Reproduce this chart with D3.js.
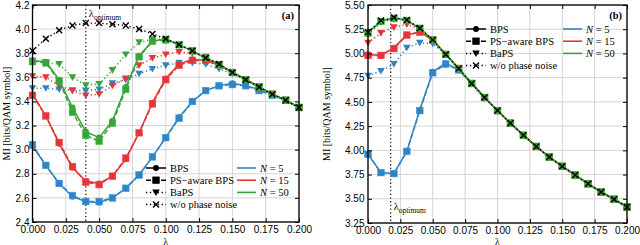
<!DOCTYPE html>
<html>
<head>
<meta charset="utf-8">
<script src="https://cdn.jsdelivr.net/npm/d3@7"></script>
<style>
  body { margin: 0; background: #fff; }
  svg { font-family: "Liberation Serif", "DejaVu Serif", serif; }
  .tick text { font-size: 10px; fill: #000; }
  .tick line { stroke: #000; }
  .domain { stroke: none; }
</style>
</head>
<body>
<script>
// lambda grid
const lambdas = [0, 0.01, 0.02, 0.03, 0.04, 0.05, 0.06, 0.07, 0.08, 0.09, 0.10,
                 0.11, 0.12, 0.13, 0.14, 0.15, 0.16, 0.17, 0.18, 0.19, 0.20];
const xTicks = [0, 0.025, 0.05, 0.075, 0.1, 0.125, 0.15, 0.175, 0.2];

// panel (a)
const aTicks = [2.4, 2.6, 2.8, 3.0, 3.2, 3.4, 3.6, 3.8, 4.0, 4.2];
const aNoPN   = [3.82,3.92,3.99,4.03,4.05,4.05,4.04,4.03,4.00,3.96,3.92,3.87,3.82,3.76,3.71,3.64,3.58,3.52,3.46,3.41,3.35];
const aBps5   = [3.03,2.87,2.72,2.61,2.57,2.56,2.60,2.68,2.79,2.94,3.10,3.27,3.40,3.49,3.53,3.55,3.53,3.50,3.46,3.41,3.35];
const aPsa5   = [3.04,2.87,2.72,2.62,2.57,2.57,2.60,2.68,2.79,2.94,3.10,3.26,3.40,3.49,3.53,3.54,3.53,3.49,3.45,3.41,3.35];
const aBaps5  = [3.51,3.51,3.50,3.49,3.49,3.50,3.55,3.58,3.63,3.67,3.70,3.72,3.72,3.71,3.67,3.63,3.58,3.52,3.46,3.41,3.35];
const aBps15  = [3.46,3.28,3.05,2.85,2.74,2.72,2.78,2.92,3.14,3.39,3.59,3.71,3.75,3.74,3.70,3.645,3.585,3.52,3.46,3.41,3.35];
const aPsa15  = [3.45,3.28,3.06,2.86,2.73,2.71,2.78,2.93,3.14,3.38,3.58,3.70,3.74,3.74,3.70,3.64,3.58,3.52,3.46,3.41,3.35];
const aBaps15 = [3.61,3.60,3.53,3.49,3.45,3.46,3.53,3.59,3.70,3.76,3.79,3.81,3.80,3.77,3.71,3.645,3.58,3.52,3.46,3.41,3.35];
const aBps50  = [3.74,3.73,3.58,3.35,3.15,3.10,3.24,3.52,3.78,3.90,3.92,3.87,3.82,3.76,3.71,3.64,3.58,3.52,3.46,3.41,3.35];
const aPsa50  = [3.73,3.72,3.57,3.31,3.12,3.07,3.22,3.50,3.77,3.90,3.91,3.87,3.82,3.76,3.70,3.64,3.58,3.52,3.46,3.41,3.35];
const aBaps50 = [3.74,3.72,3.71,3.60,3.535,3.545,3.66,3.79,3.89,3.915,3.915,3.87,3.82,3.76,3.71,3.64,3.58,3.52,3.46,3.41,3.35];

// panel (b)
const bTicks = [3.25, 3.50, 3.75, 4.00, 4.25, 4.50, 4.75, 5.00, 5.25, 5.50];
const bNoPN   = [5.22,5.34,5.37,5.345,5.26,5.14,4.99,4.845,4.69,4.545,4.41,4.28,4.155,4.04,3.93,3.835,3.745,3.655,3.57,3.495,3.415];
const bBps5   = [3.96,3.77,3.76,3.99,4.42,4.81,4.90,4.83,4.69,4.545,4.41,4.28,4.155,4.04,3.93,3.835,3.745,3.655,3.57,3.495,3.415];
const bPsa5   = [3.96,3.77,3.76,3.99,4.41,4.80,4.89,4.83,4.69,4.545,4.41,4.28,4.155,4.04,3.93,3.835,3.745,3.655,3.57,3.495,3.415];
const bBaps5  = [4.77,4.82,4.89,5.06,5.11,5.10,4.99,4.845,4.69,4.545,4.41,4.28,4.155,4.04,3.93,3.835,3.745,3.655,3.57,3.495,3.415];
const bBps15  = [4.99,4.98,5.06,5.19,5.22,5.14,4.99,4.845,4.69,4.545,4.41,4.28,4.155,4.04,3.93,3.835,3.745,3.655,3.57,3.495,3.415];
const bPsa15  = [4.98,4.98,5.05,5.19,5.22,5.14,4.99,4.845,4.69,4.545,4.41,4.28,4.155,4.04,3.93,3.835,3.745,3.655,3.57,3.495,3.415];
const bBaps15 = [5.11,5.21,5.27,5.30,5.255,5.14,4.99,4.845,4.69,4.545,4.41,4.28,4.155,4.04,3.93,3.835,3.745,3.655,3.57,3.495,3.415];
const bBps50  = [5.22,5.33,5.37,5.34,5.26,5.14,4.99,4.845,4.69,4.545,4.41,4.28,4.155,4.04,3.93,3.835,3.745,3.655,3.57,3.495,3.415];
const bPsa50  = [5.21,5.33,5.36,5.34,5.26,5.14,4.99,4.845,4.69,4.545,4.41,4.28,4.155,4.04,3.93,3.835,3.745,3.655,3.57,3.495,3.415];
const bBaps50 = [5.20,5.32,5.36,5.34,5.26,5.14,4.99,4.845,4.69,4.545,4.41,4.28,4.155,4.04,3.93,3.835,3.745,3.655,3.57,3.495,3.415];

const colors = { 5: "#3184c4", 15: "#e2363a", 50: "#38a33a" };
const methodNames = ["BPS", "PS\u2212aware BPS", "BaPS", "w/o phase noise"];
const nValues = [5, 15, 50];

const svg = d3.select("body").append("svg")
  .attr("width", 640)
  .attr("height", 245);

const dashes = { bps: null, psa: "5,2.5", baps: "1.3,2.6" };

function marker(g, type, x, y, color) {
  if (type === "bps") {
    g.append("circle").attr("cx", x).attr("cy", y).attr("r", 3).attr("fill", color);
  } else if (type === "psa") {
    g.append("rect").attr("x", x - 3.3).attr("y", y - 3.3).attr("width", 6.6).attr("height", 6.6)
      .attr("fill", color).attr("stroke", d3.color(color).brighter(0.4)).attr("stroke-width", 0.6);
  } else if (type === "baps") {
    g.append("path").attr("d", `M${x - 3.8},${y - 3}L${x + 3.8},${y - 3}L${x},${y + 3.6}Z`).attr("fill", color);
  } else {
    g.append("path").attr("d", `M${x - 3},${y - 3}L${x + 3},${y + 3}M${x - 3},${y + 3}L${x + 3},${y - 3}`)
      .attr("stroke", color).attr("stroke-width", 1.4);
  }
}

function drawPanel(p) {
  const x = d3.scaleLinear().domain([0, 0.2]).range([p.left, p.right]);
  const y = d3.scaleLinear().domain(p.yDomain).range([p.bottom, p.top]);
  const g = svg.append("g");

  // grid
  g.selectAll(".gx").data(xTicks).enter().append("line")
    .attr("x1", d => x(d)).attr("x2", d => x(d)).attr("y1", p.top).attr("y2", p.bottom)
    .attr("stroke", "#d4d4d4").attr("stroke-width", 1);
  g.selectAll(".gy").data(p.yTicks).enter().append("line")
    .attr("x1", p.left).attr("x2", p.right).attr("y1", d => y(d)).attr("y2", d => y(d))
    .attr("stroke", "#d4d4d4").attr("stroke-width", 1);

  // optimum line
  g.append("line").attr("x1", x(p.opt)).attr("x2", x(p.opt)).attr("y1", p.top).attr("y2", p.bottom)
    .attr("stroke", "#222").attr("stroke-width", 1.3).attr("stroke-dasharray", "1.3,2.4");
  const ol = g.append("text").attr("x", x(p.opt) + 3).attr("y", p.optY).attr("font-size", 10.5);
  ol.append("tspan").text("\u03bb");
  ol.append("tspan").attr("dy", 2.5).attr("font-size", 7.5).text("optimum");

  const line = d3.line().x((d, i) => x(lambdas[i])).y(d => y(d));

  nValues.forEach(n => {
    ["bps", "psa", "baps"].forEach(type => {
      const vals = p.series[n][type];
      g.append("path").datum(vals).attr("d", line)
        .attr("fill", "none").attr("stroke", colors[n]).attr("stroke-width", 1.5)
        .attr("stroke-dasharray", dashes[type]);
      const mg = g.append("g");
      vals.forEach((v, i) => marker(mg, type, x(lambdas[i]), y(v), colors[n]));
    });
  });

  g.append("path").datum(p.noPN).attr("d", line)
    .attr("fill", "none").attr("stroke", "#000").attr("stroke-width", 1.4)
    .attr("stroke-dasharray", "1.3,2.6");
  const xg = g.append("g");
  p.noPN.forEach((v, i) => marker(xg, "x", x(lambdas[i]), y(v), "#000"));

  // axes, ticks pointing inward
  g.append("g").attr("transform", `translate(0,${p.bottom})`)
    .call(d3.axisBottom(x).tickValues(xTicks).tickFormat(d3.format(".3f")).tickSize(-4).tickPadding(3.5));
  g.append("g").attr("transform", `translate(0,${p.top})`)
    .call(d3.axisTop(x).tickValues(xTicks).tickFormat("").tickSize(-4));
  g.append("g").attr("transform", `translate(${p.left},0)`)
    .call(d3.axisLeft(y).tickValues(p.yTicks).tickFormat(d3.format(p.yFmt)).tickSize(-4).tickPadding(p.yPad));
  g.append("g").attr("transform", `translate(${p.right},0)`)
    .call(d3.axisRight(y).tickValues(p.yTicks).tickFormat("").tickSize(-4));

  g.append("rect").attr("x", p.left).attr("y", p.top)
    .attr("width", p.right - p.left).attr("height", p.bottom - p.top)
    .attr("fill", "none").attr("stroke", "#000").attr("stroke-width", 1.3);

  // labels
  g.append("text").attr("x", (p.left + p.right) / 2).attr("y", 244.5)
    .attr("text-anchor", "middle").attr("font-size", 10).text("\u03bb");
  g.append("text").attr("transform", `translate(${p.yLabX},${(p.top + p.bottom) / 2}) rotate(-90)`)
    .attr("text-anchor", "middle").attr("font-size", 10).text("MI [bits/QAM symbol]");
  g.append("text").attr("x", p.right - 5).attr("y", p.top + 14)
    .attr("text-anchor", "end").attr("font-size", 10.5).attr("font-weight", "bold").text(p.tag);

  // legend
  const lg = g.append("g");
  methodNames.forEach((name, i) => {
    const ly = p.legY + i * 12.2;
    const type = ["bps", "psa", "baps", "x"][i];
    lg.append("line").attr("x1", p.legX).attr("x2", p.legX + 20).attr("y1", ly).attr("y2", ly)
      .attr("stroke", "#000").attr("stroke-width", 1.5)
      .attr("stroke-dasharray", type === "x" ? "1.3,2.6" : dashes[type]);
    marker(lg, type, p.legX + 10, ly, "#000");
    lg.append("text").attr("x", p.legX + 24).attr("y", ly + 3.5).attr("font-size", 10.5).text(name);
  });
  nValues.forEach((n, i) => {
    const ly = p.legY + i * 12.2;
    lg.append("line").attr("x1", p.legX2).attr("x2", p.legX2 + 19).attr("y1", ly).attr("y2", ly)
      .attr("stroke", colors[n]).attr("stroke-width", 1.6);
    const t = lg.append("text").attr("x", p.legX2 + 23).attr("y", ly + 3.5).attr("font-size", 10.5);
    t.append("tspan").attr("font-style", "italic").text("N");
    t.append("tspan").text(" = " + n);
  });
}

drawPanel({
  left: 32.5, right: 299, top: 5, bottom: 222,
  yDomain: [2.4, 4.2], yTicks: aTicks, yFmt: ".1f", yPad: 3, yLabX: 10,
  opt: 0.04, optY: 17, tag: "(a)",
  legX: 146, legX2: 237, legY: 168,
  noPN: aNoPN,
  series: {
    5: { bps: aBps5, psa: aPsa5, baps: aBaps5 },
    15: { bps: aBps15, psa: aPsa15, baps: aBaps15 },
    50: { bps: aBps50, psa: aPsa50, baps: aBaps50 }
  }
});

drawPanel({
  left: 368, right: 627, top: 5, bottom: 223,
  yDomain: [3.25, 5.5], yTicks: bTicks, yFmt: ".2f", yPad: 3.5, yLabX: 330,
  opt: 0.0175, optY: 210, tag: "(b)",
  legX: 466, legX2: 563, legY: 29,
  noPN: bNoPN,
  series: {
    5: { bps: bBps5, psa: bPsa5, baps: bBaps5 },
    15: { bps: bBps15, psa: bPsa15, baps: bBaps15 },
    50: { bps: bBps50, psa: bPsa50, baps: bBaps50 }
  }
});
</script>
</body>
</html>
